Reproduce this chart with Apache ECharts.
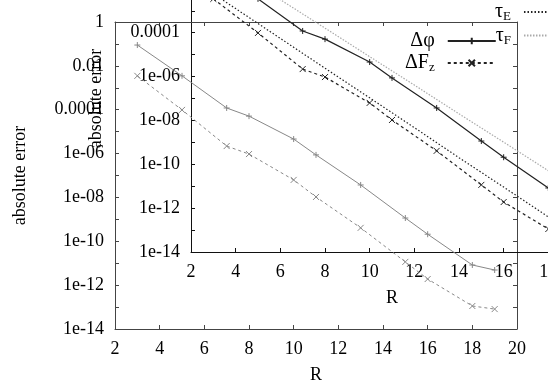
<!DOCTYPE html>
<html>
<head>
<meta charset="utf-8">
<script src="https://cdn.jsdelivr.net/npm/echarts@6/dist/echarts.min.js"></script>
<style>
html, body { margin: 0; padding: 0; background: #fff; }
#main { width: 548px; height: 384px; }
</style>
</head>
<body>
<div id="main"></div>
<script>
// data (R, absolute error)
var radius = [3, 5, 7, 8, 10, 11, 13, 15, 16, 18, 19];
var dPhi = [8.9e-2, 3.5e-3, 1.2e-4, 5.1e-5, 4.6e-6, 8.7e-7, 3.7e-8, 1.15e-9, 2.1e-10, 8.3e-12, 4.9e-12];
var dFz = [3.5e-3, 9.8e-5, 2.2e-6, 9.5e-7, 6.3e-8, 1.05e-8, 4.1e-10, 1.15e-11, 1.9e-12, 1.12e-13, 8.1e-14];
var tauR = [2, 4, 6, 8, 10, 12, 14, 16, 18, 20];
var tauE = [2.8e-2, 1.26e-3, 5.5e-5, 2.4e-6, 1.07e-7, 4.7e-9, 2.0e-10, 9.1e-12, 4.0e-13, 1.74e-14];
var tauF = [1.29, 6.5e-2, 3.2e-3, 1.62e-4, 8.1e-6, 4.1e-7, 2.0e-8, 1.02e-9, 5.1e-11, 2.6e-12];

var plusSym = 'path://M0,5L10,5M5,0L5,10';
var crossSym = 'path://M0,0L10,10M10,0L0,10';
var font = 'Liberation Serif';

function zip(xs, ys) {
  var out = [];
  for (var i = 0; i < xs.length; i++) out.push([xs[i], ys[i]]);
  return out;
}

// gnuplot style: 1, 0.01, 0.0001, 1e-06 ... only every second decade
function logLabel(v) {
  var e = Math.round(Math.log10(v));
  if (e % 2 !== 0) return '';
  if (e >= -4) return e === 0 ? '1' : Math.pow(10, e).toFixed(-e);
  var n = -e;
  return '1e-' + (n < 10 ? '0' + n : n);
}

function xAx(grid, color, pos, labels) {
  return {
    type: 'value', gridIndex: grid, position: pos, min: 2, max: 20, interval: 2,
    splitLine: { show: false },
    axisLine: { lineStyle: { color: color, width: 1 } },
    axisTick: { inside: true, length: 4, lineStyle: { color: color } },
    axisLabel: { show: labels, margin: 11, color: '#000', fontFamily: font, fontSize: 18 },
    name: labels ? 'R' : '', nameLocation: 'middle', nameGap: 37,
    nameTextStyle: { color: '#000', fontFamily: font, fontSize: 18 }
  };
}

function yAx(grid, color, pos, labels) {
  return {
    type: 'log', logBase: 10, gridIndex: grid, position: pos, min: 1e-14, max: 1,
    interval: 1, splitNumber: 14,
    splitLine: { show: false },
    axisLine: { lineStyle: { color: color, width: 1 } },
    axisTick: { inside: true, length: 4, lineStyle: { color: color } },
    axisLabel: { show: labels, margin: 11, color: '#000', fontFamily: font, fontSize: 18,
      formatter: logLabel, showMinLabel: true, showMaxLabel: true, hideOverlap: false },
    name: labels ? 'absolute error' : '', nameLocation: 'middle', nameGap: 86, nameRotate: 90,
    nameTextStyle: { color: '#000', fontFamily: font, fontSize: 18 }
  };
}

function line(name, xi, yi, data, color, type, sym, width) {
  return {
    name: name, type: 'line', xAxisIndex: xi, yAxisIndex: yi, data: data,
    symbol: sym || 'none', symbolSize: 6, showSymbol: !!sym,
    lineStyle: { color: color, type: type, width: width },
    itemStyle: { color: color, borderColor: color, borderWidth: 1 },
    animation: false
  };
}

var rich = {
  t: { fontFamily: font, fontSize: 20, color: '#000', padding: [0, 8, 0, 0] },
  n: { fontFamily: font, fontSize: 20, color: '#000' },
  s: { fontFamily: font, fontSize: 13, color: '#000', padding: [10, 8, 0, 0] }
};
function legendName(name) {
  if (name === 'ΔFz') return '{n|ΔF}{s|z}';
  if (name === 'τE') return '{n|τ}{s|E}';
  if (name === 'τF') return '{n|τ}{s|F}';
  return '{t|' + name + '}';
}

var myChart = echarts.init(document.getElementById('main'));
var option = {
  backgroundColor: '#fff',
  grid: [
    { left: 115, top: 22, width: 402, height: 307, outerBoundsMode: 'none' },
    { left: 191, top: -55, width: 402, height: 307, outerBoundsMode: 'none' }
  ],
  xAxis: [xAx(0, '#444', 'bottom', true), xAx(0, '#444', 'top', false), xAx(1, '#111', 'bottom', true)],
  yAxis: [yAx(0, '#444', 'left', true), yAx(0, '#444', 'right', false), yAx(1, '#111', 'left', true)],
  legend: [
    { data: ['Δφ', 'ΔFz'], orient: 'vertical', align: 'right', left: 400, top: 26,
      itemWidth: 48, itemHeight: 8, itemGap: 2, formatter: legendName,
      textStyle: { rich: rich }, selectedMode: false },
    { data: ['τE', 'τF'], orient: 'vertical', align: 'right', left: 490, top: -3,
      itemWidth: 48, itemHeight: 8, itemGap: 2, formatter: legendName,
      itemStyle: { color: 'transparent', borderColor: 'transparent', borderWidth: 0 },
      textStyle: { rich: rich }, selectedMode: false }
  ],
  series: [
    line('Δφ', 2, 2, zip(radius, dPhi), '#222', 'solid', plusSym, 1.2),
    line('ΔFz', 2, 2, zip(radius, dFz), '#222', [3, 3], crossSym, 1.2),
    line('τE', 2, 2, zip(tauR, tauE), '#222', [1.5, 2], null, 1.2),
    line('τF', 2, 2, zip(tauR, tauF), '#aaa', [1.5, 1.5], null, 1.2),
    line('Δφ', 0, 0, zip(radius, dPhi), '#888', 'solid', plusSym, 1),
    line('ΔFz', 0, 0, zip(radius, dFz), '#888', [3, 3], crossSym, 1)
  ]
};
myChart.setOption(option);
</script>
</body>
</html>
